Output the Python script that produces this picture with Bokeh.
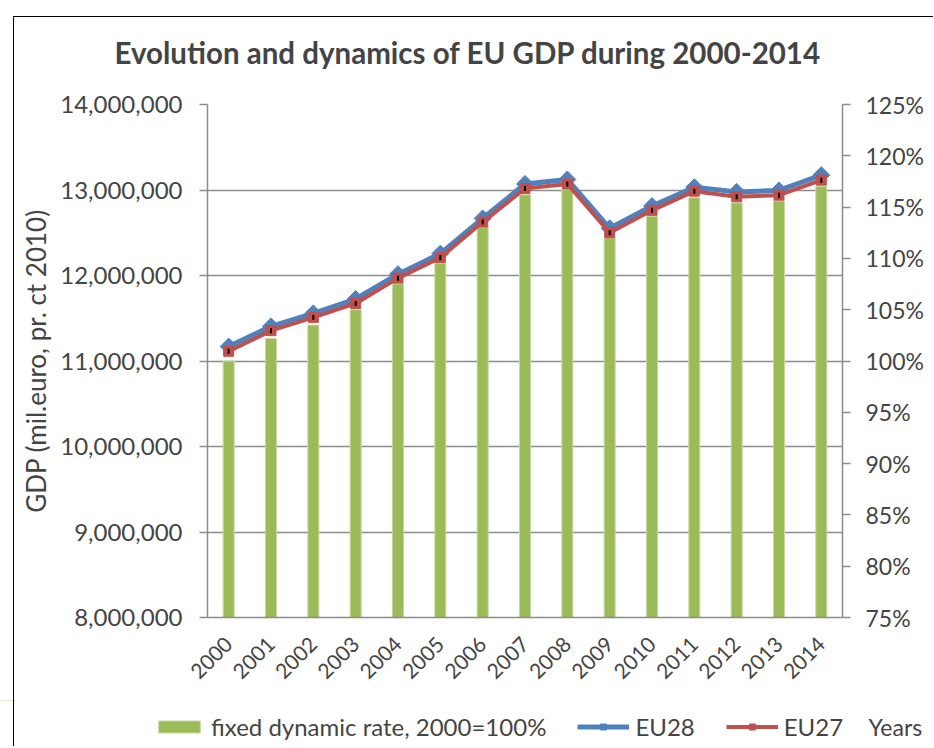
import math
from bokeh.plotting import figure
from bokeh.models import (Range1d, LinearAxis, FixedTicker, NumeralTickFormatter,
                          PrintfTickFormatter, Legend, LegendItem, Title, Label, Div)
from bokeh.embed import file_html
from bokeh.resources import INLINE

# ---- data ----
years = [str(y) for y in range(2000, 2015)]
eu28 = [11169000, 11405000, 11557000, 11725000, 12016000, 12256000, 12668000, 13071000,
        13123000, 12552000, 12812000, 13033000, 12978000, 12995000, 13173000]
eu27 = [11114000, 11355000, 11510000, 11673000, 11969000, 12209000, 12625000, 13018000,
        13071000, 12500000, 12762000, 12986000, 12920000, 12940000, 13115000]
dyn_rate = [100.0, 102.2, 103.5, 105.0, 107.5, 109.5, 113.0, 116.2,
            116.7, 112.0, 114.1, 115.9, 115.4, 115.6, 117.0]
left_ticks = [8000000, 9000000, 10000000, 11000000, 12000000, 13000000, 14000000]
right_ticks = [75, 80, 85, 90, 95, 100, 105, 110, 115, 120, 125]

title_text = "Evolution and dynamics of EU GDP during 2000-2014"
ylabel_text = "GDP (mil.euro, pr. ct 2010)"
legend_labels = ["fixed dynamic rate, 2000=100%", "EU28", "EU27"]
xlabel_text = "Years"

FONT = "Lato"
GRAY = "#8c8c8c"
GREEN = "#9BBB59"
BLUE = "#4F81BD"
RED = "#C0504D"
W = 926

p = figure(x_range=years, y_range=Range1d(8000000, 14000000), width=W, height=700,
           output_backend="svg", toolbar_location=None,
           min_border_left=207, min_border_right=79, min_border_top=104, min_border_bottom=83)
p.outline_line_color = None

p.title = Title(text=title_text, align="left", offset=-93, vertical_align="top",
                text_font=FONT, text_font_size="29.5px", text_font_style="bold", standoff=66)

p.extra_y_ranges = {"pct": Range1d(75, 125)}

# left axis
ya = p.yaxis[0]
ya.ticker = FixedTicker(ticks=left_ticks)
ya.formatter = NumeralTickFormatter(format="0,0")
ya.axis_label = ylabel_text
ya.axis_label_text_font = FONT
ya.axis_label_text_font_size = "26px"
ya.axis_label_text_font_style = "normal"
ya.axis_label_standoff = 5
ya.major_label_text_font = FONT
ya.major_label_text_font_size = "24px"
ya.major_label_standoff = 17
ya.axis_line_color = GRAY
ya.axis_line_width = 1.5
ya.major_tick_line_color = GRAY
ya.major_tick_line_width = 1.5
ya.major_tick_out = 8
ya.major_tick_in = 0
ya.minor_tick_line_color = None

# right axis
ra = LinearAxis(y_range_name="pct", ticker=FixedTicker(ticks=right_ticks),
                formatter=PrintfTickFormatter(format="%d%%"))
ra.major_label_text_font = FONT
ra.major_label_text_font_size = "23px"
ra.major_label_standoff = 15
ra.axis_line_color = GRAY
ra.axis_line_width = 1.5
ra.major_tick_line_color = GRAY
ra.major_tick_line_width = 1.5
ra.major_tick_out = 8
ra.major_tick_in = 0
ra.minor_tick_line_color = None
p.add_layout(ra, "right")

# x axis
xa = p.xaxis[0]
xa.major_label_orientation = math.pi / 4
xa.major_label_text_font = FONT
xa.major_label_text_font_size = "21px"
xa.major_label_standoff = 17
xa.axis_line_color = GRAY
xa.axis_line_width = 1.5
xa.major_tick_line_color = None
xa.minor_tick_line_color = None

p.xgrid.visible = False
p.ygrid.ticker = FixedTicker(ticks=left_ticks)
p.ygrid.grid_line_color = GRAY
p.ygrid.grid_line_width = 1.5

# bars
p.vbar(x=years, top=dyn_rate, bottom=75, width=0.26, y_range_name="pct",
       fill_color=GREEN, line_color="#c5d99f", line_width=1)

# EU28
p.line(years, eu28, line_width=5, color=BLUE)
p.scatter(years, eu28, marker="square", angle=math.pi / 4, size=12, color=BLUE)

# EU27
p.line(years, eu27, line_width=4, color=RED)
p.scatter(years, eu27, marker="square", size=10, color=RED)
p.scatter(years, eu27, marker="dash", angle=math.pi / 2, size=5, line_color="black", line_width=2)

# ---- legend strip (separate root canvas so nothing is clipped by the frame) ----
# Its own ranges keep the (same) data series out of view; only the legend swatches show.
H2 = 44
idx = list(range(len(years)))
q = figure(x_range=Range1d(0, W), y_range=Range1d(0, H2), width=W, height=H2,
           output_backend="svg", toolbar_location=None,
           x_axis_location=None, y_axis_location=None,
           min_border_left=0, min_border_right=0, min_border_top=0, min_border_bottom=0)
q.outline_line_color = None
q.grid.visible = False

lb = q.vbar(x=idx, top=dyn_rate, bottom=75, width=0.26, fill_color=GREEN,
            line_color="#c5d99f", line_width=1)
ll28 = q.line(idx, eu28, line_width=5, color=BLUE)
ls28 = q.scatter(idx, eu28, marker="square", angle=math.pi / 4, size=12, color=BLUE)
ll27 = q.line(idx, eu27, line_width=4, color=RED)
ls27 = q.scatter(idx, eu27, marker="square", size=10, color=RED)

legend = Legend(items=[LegendItem(label=legend_labels[0], renderers=[lb]),
                       LegendItem(label=legend_labels[1], renderers=[ll28, ls28]),
                       LegendItem(label=legend_labels[2], renderers=[ll27, ls27])],
                orientation="horizontal", location=(153, 3),
                glyph_width=52, glyph_height=15, label_standoff=6, spacing=31,
                padding=0, margin=0, border_line_color=None, background_fill_alpha=0,
                label_text_font=FONT, label_text_font_size="24px")
q.add_layout(legend, "center")
q.add_layout(Label(x=868, y=4, text=xlabel_text, text_font=FONT, text_font_size="23px",
                   text_baseline="bottom", text_align="left"))

# chart-area border (left and top edges, as in the reference)
frame_border = Div(text="", styles={"position": "absolute", "left": "8px", "top": "11px",
                                    "width": "920px", "height": "730px",
                                    "border-left": "1px solid #000", "border-top": "1px solid #000",
                                    "pointer-events": "none", "box-sizing": "border-box"})

open("out.html", "w").write(file_html([p, q, frame_border], INLINE))
